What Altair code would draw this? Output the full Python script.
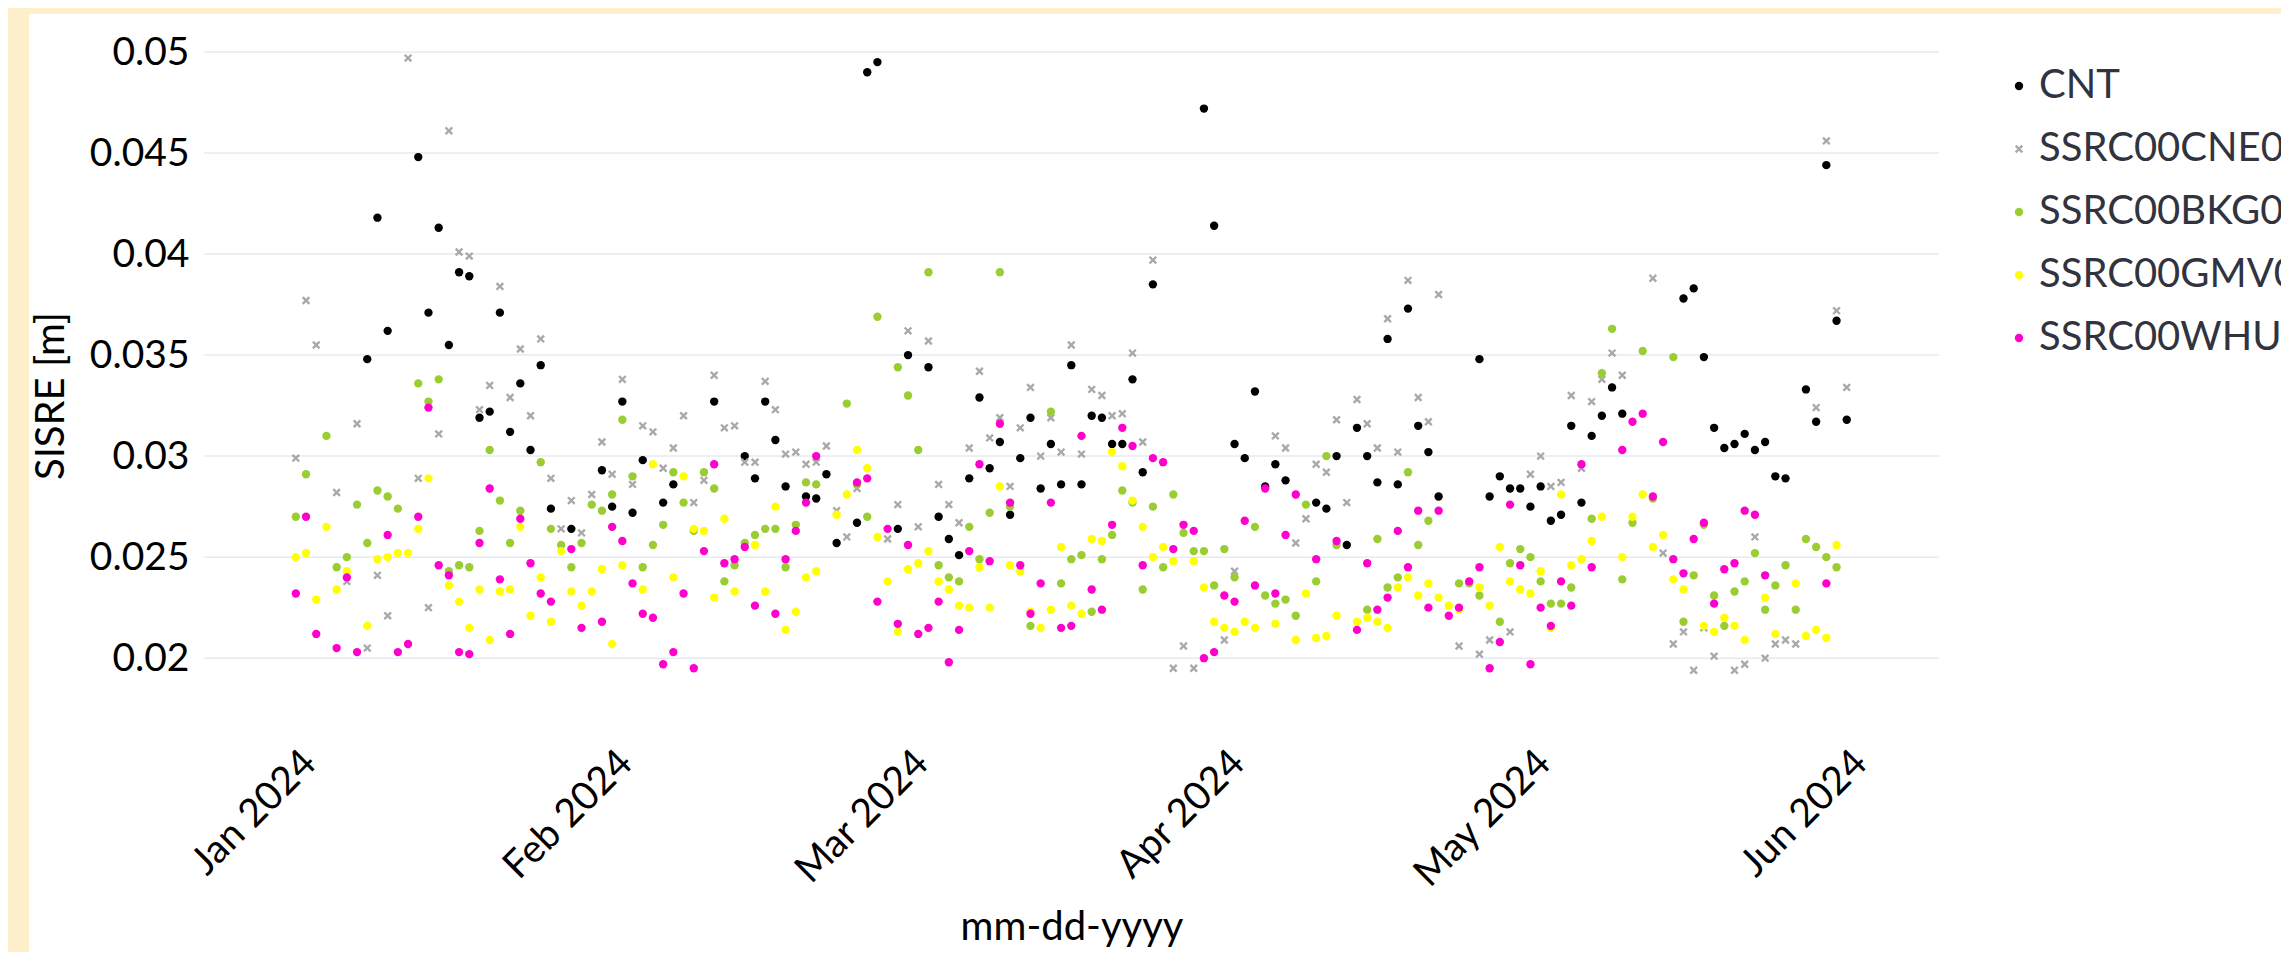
import altair as alt
import pandas as pd

series_names = ["CNT", "SSRC00CNE0", "SSRC00BKG0", "SSRC00GMV0", "SSRC00WHU0"]
series_colors = ["#000000", "#a9a9a9", "#9acd32", "#ffff00", "#ff00cc"]
x_shape = "M-1,-0.6L-0.6,-1L0,-0.4L0.6,-1L1,-0.6L0.4,0L1,0.6L0.6,1L0,0.4L-0.6,1L-1,0.6L-0.4,0Z"
series_shapes = ["circle", x_shape, "circle", "circle", "circle"]

start_date = "2024-01-01"  # day offsets below count from this date

cnt_days = [7, 8, 9, 12, 13, 14, 15, 16, 17, 18, 19, 20, 21, 22, 23, 24, 25, 27, 30, 31,
            32, 33, 34, 36, 37, 41, 44, 45, 46, 47, 48, 50, 51, 52, 53, 55, 56, 57, 59, 60,
            62, 63, 64, 65, 66, 67, 68, 69, 70, 71, 72, 73, 74, 75, 76, 77, 78, 79, 80, 81,
            82, 83, 84, 89, 90, 92, 93, 94, 95, 96, 97, 100, 101, 102, 103, 104, 105, 106, 107, 108,
            109, 110, 111, 112, 116, 117, 118, 119, 120, 121, 122, 123, 124, 125, 126, 127, 128, 129, 130, 136,
            137, 138, 139, 140, 141, 142, 143, 144, 145, 146, 148, 149, 150, 151, 152]
cnt_vals = [0.0348, 0.0418, 0.0362, 0.0448, 0.0371, 0.0413, 0.0355, 0.0391, 0.0389, 0.0319, 0.0322, 0.0371, 0.0312, 0.0336, 0.0303, 0.0345, 0.0274, 0.0264, 0.0293, 0.0275,
            0.0327, 0.0272, 0.0298, 0.0277, 0.0286, 0.0327, 0.0300, 0.0289, 0.0327, 0.0308, 0.0285, 0.0280, 0.0279, 0.0291, 0.0257, 0.0267, 0.0490, 0.0495, 0.0264, 0.0350,
            0.0344, 0.0270, 0.0259, 0.0251, 0.0289, 0.0329, 0.0294, 0.0307, 0.0271, 0.0299, 0.0319, 0.0284, 0.0306, 0.0286, 0.0345, 0.0286, 0.0320, 0.0319, 0.0306, 0.0306,
            0.0338, 0.0292, 0.0385, 0.0472, 0.0414, 0.0306, 0.0299, 0.0332, 0.0285, 0.0296, 0.0288, 0.0277, 0.0274, 0.0300, 0.0256, 0.0314, 0.0300, 0.0287, 0.0358, 0.0286,
            0.0373, 0.0315, 0.0302, 0.0280, 0.0348, 0.0280, 0.0290, 0.0284, 0.0284, 0.0275, 0.0285, 0.0268, 0.0271, 0.0315, 0.0277, 0.0310, 0.0320, 0.0334, 0.0321, 0.0378,
            0.0383, 0.0349, 0.0314, 0.0304, 0.0306, 0.0311, 0.0303, 0.0307, 0.0290, 0.0289, 0.0333, 0.0317, 0.0444, 0.0367, 0.0318]

cne_days = [0, 1, 2, 4, 5, 6, 7, 8, 9, 11, 12, 13, 14, 15, 16, 17, 18, 19, 20, 21,
            22, 23, 24, 25, 26, 27, 28, 29, 30, 31, 32, 33, 34, 35, 36, 37, 38, 39, 40, 41,
            42, 43, 44, 45, 46, 47, 48, 49, 50, 51, 52, 53, 54, 55, 58, 59, 60, 61, 62, 63,
            64, 65, 66, 67, 68, 69, 70, 71, 72, 73, 74, 75, 76, 77, 78, 79, 80, 81, 82, 83,
            84, 86, 87, 88, 91, 92, 96, 97, 98, 99, 100, 101, 102, 103, 104, 105, 106, 107, 108, 109,
            110, 111, 112, 114, 116, 117, 119, 121, 122, 123, 124, 125, 126, 127, 128, 129, 130, 133, 134, 135,
            136, 137, 138, 139, 141, 142, 143, 144, 145, 146, 147, 149, 150, 151, 152]
cne_vals = [0.0299, 0.0377, 0.0355, 0.0282, 0.0238, 0.0316, 0.0205, 0.0241, 0.0221, 0.0497, 0.0289, 0.0225, 0.0311, 0.0461, 0.0401, 0.0399, 0.0323, 0.0335, 0.0384, 0.0329,
            0.0353, 0.0320, 0.0358, 0.0289, 0.0264, 0.0278, 0.0262, 0.0281, 0.0307, 0.0291, 0.0338, 0.0286, 0.0315, 0.0312, 0.0294, 0.0304, 0.0320, 0.0277, 0.0288, 0.0340,
            0.0314, 0.0315, 0.0297, 0.0297, 0.0337, 0.0323, 0.0301, 0.0302, 0.0296, 0.0297, 0.0305, 0.0273, 0.0260, 0.0284, 0.0259, 0.0276, 0.0362, 0.0265, 0.0357, 0.0286,
            0.0276, 0.0267, 0.0304, 0.0342, 0.0309, 0.0319, 0.0285, 0.0314, 0.0334, 0.0300, 0.0319, 0.0302, 0.0355, 0.0301, 0.0333, 0.0330, 0.0320, 0.0321, 0.0351, 0.0307,
            0.0397, 0.0195, 0.0206, 0.0195, 0.0209, 0.0243, 0.0310, 0.0304, 0.0257, 0.0269, 0.0296, 0.0292, 0.0318, 0.0277, 0.0328, 0.0316, 0.0304, 0.0368, 0.0302, 0.0387,
            0.0329, 0.0317, 0.0380, 0.0206, 0.0202, 0.0209, 0.0213, 0.0291, 0.0300, 0.0285, 0.0287, 0.0330, 0.0294, 0.0327, 0.0338, 0.0351, 0.0340, 0.0388, 0.0252, 0.0207,
            0.0213, 0.0194, 0.0215, 0.0201, 0.0194, 0.0197, 0.0260, 0.0200, 0.0207, 0.0209, 0.0207, 0.0324, 0.0456, 0.0372, 0.0334]

bkg_days = [0, 1, 3, 4, 5, 6, 7, 8, 9, 10, 12, 13, 14, 15, 16, 17, 18, 19, 20, 21,
            22, 24, 25, 26, 27, 28, 29, 30, 31, 32, 33, 34, 35, 36, 37, 38, 39, 40, 41, 42,
            43, 44, 45, 46, 47, 48, 49, 50, 51, 54, 55, 56, 57, 59, 60, 61, 62, 63, 64, 65,
            66, 67, 68, 69, 70, 72, 74, 75, 76, 77, 78, 79, 80, 81, 82, 83, 84, 85, 86, 87,
            88, 89, 90, 91, 92, 94, 95, 96, 97, 98, 99, 100, 101, 102, 105, 106, 107, 108, 109, 110,
            111, 114, 115, 116, 118, 119, 120, 121, 122, 123, 124, 125, 127, 128, 129, 130, 131, 132, 133, 135,
            136, 137, 138, 139, 140, 141, 142, 143, 144, 145, 146, 147, 148, 149, 150, 151]
bkg_vals = [0.0270, 0.0291, 0.0310, 0.0245, 0.0250, 0.0276, 0.0257, 0.0283, 0.0280, 0.0274, 0.0336, 0.0327, 0.0338, 0.0243, 0.0246, 0.0245, 0.0263, 0.0303, 0.0278, 0.0257,
            0.0273, 0.0297, 0.0264, 0.0256, 0.0245, 0.0257, 0.0276, 0.0273, 0.0281, 0.0318, 0.0290, 0.0245, 0.0256, 0.0266, 0.0292, 0.0277, 0.0263, 0.0292, 0.0284, 0.0238,
            0.0246, 0.0257, 0.0261, 0.0264, 0.0264, 0.0245, 0.0266, 0.0287, 0.0286, 0.0326, 0.0286, 0.0270, 0.0369, 0.0344, 0.0330, 0.0303, 0.0391, 0.0246, 0.0240, 0.0238,
            0.0265, 0.0249, 0.0272, 0.0391, 0.0275, 0.0216, 0.0322, 0.0237, 0.0249, 0.0251, 0.0223, 0.0249, 0.0261, 0.0283, 0.0277, 0.0234, 0.0275, 0.0245, 0.0281, 0.0262,
            0.0253, 0.0253, 0.0236, 0.0254, 0.0240, 0.0265, 0.0231, 0.0227, 0.0229, 0.0221, 0.0276, 0.0238, 0.0300, 0.0256, 0.0224, 0.0259, 0.0235, 0.0240, 0.0292, 0.0256,
            0.0268, 0.0237, 0.0237, 0.0231, 0.0218, 0.0247, 0.0254, 0.0250, 0.0238, 0.0227, 0.0227, 0.0235, 0.0269, 0.0341, 0.0363, 0.0239, 0.0267, 0.0352, 0.0279, 0.0349,
            0.0218, 0.0241, 0.0266, 0.0231, 0.0216, 0.0233, 0.0238, 0.0252, 0.0224, 0.0236, 0.0246, 0.0224, 0.0259, 0.0255, 0.0250, 0.0245]

gmv_days = [0, 1, 2, 3, 4, 5, 7, 8, 9, 10, 11, 12, 13, 15, 16, 17, 18, 19, 20, 21,
            22, 23, 24, 25, 26, 27, 28, 29, 30, 31, 32, 34, 35, 37, 38, 39, 40, 41, 42, 43,
            45, 46, 47, 48, 49, 50, 51, 53, 54, 55, 56, 57, 58, 59, 60, 61, 62, 63, 64, 65,
            66, 67, 68, 69, 70, 71, 72, 73, 74, 75, 76, 77, 78, 79, 80, 81, 82, 83, 84, 85,
            86, 88, 89, 90, 91, 92, 93, 94, 96, 98, 99, 100, 101, 102, 104, 105, 106, 107, 108, 109,
            110, 111, 112, 113, 114, 116, 117, 118, 119, 120, 121, 122, 123, 124, 125, 126, 127, 128, 130, 131,
            132, 133, 134, 135, 136, 138, 139, 140, 141, 142, 144, 145, 147, 148, 149, 150, 151]
gmv_vals = [0.0250, 0.0252, 0.0229, 0.0265, 0.0234, 0.0243, 0.0216, 0.0249, 0.0250, 0.0252, 0.0252, 0.0264, 0.0289, 0.0236, 0.0228, 0.0215, 0.0234, 0.0209, 0.0233, 0.0234,
            0.0265, 0.0221, 0.0240, 0.0218, 0.0253, 0.0233, 0.0226, 0.0233, 0.0244, 0.0207, 0.0246, 0.0234, 0.0296, 0.0240, 0.0290, 0.0264, 0.0263, 0.0230, 0.0269, 0.0233,
            0.0256, 0.0233, 0.0275, 0.0214, 0.0223, 0.0240, 0.0243, 0.0271, 0.0281, 0.0303, 0.0294, 0.0260, 0.0238, 0.0213, 0.0244, 0.0247, 0.0253, 0.0238, 0.0234, 0.0226,
            0.0225, 0.0245, 0.0225, 0.0285, 0.0246, 0.0243, 0.0223, 0.0215, 0.0224, 0.0255, 0.0226, 0.0222, 0.0259, 0.0258, 0.0302, 0.0295, 0.0278, 0.0265, 0.0250, 0.0255,
            0.0248, 0.0248, 0.0235, 0.0218, 0.0215, 0.0213, 0.0218, 0.0215, 0.0217, 0.0209, 0.0232, 0.0210, 0.0211, 0.0221, 0.0218, 0.0220, 0.0218, 0.0215, 0.0235, 0.0240,
            0.0231, 0.0237, 0.0230, 0.0226, 0.0224, 0.0235, 0.0226, 0.0255, 0.0238, 0.0234, 0.0232, 0.0243, 0.0215, 0.0281, 0.0246, 0.0249, 0.0258, 0.0270, 0.0250, 0.0270,
            0.0281, 0.0255, 0.0261, 0.0239, 0.0234, 0.0216, 0.0213, 0.0220, 0.0216, 0.0209, 0.0230, 0.0212, 0.0237, 0.0211, 0.0214, 0.0210, 0.0256]

whu_days = [0, 1, 2, 4, 5, 6, 9, 10, 11, 12, 13, 14, 15, 16, 17, 18, 19, 20, 21, 22,
            23, 24, 25, 27, 28, 30, 31, 32, 33, 34, 35, 36, 37, 38, 39, 40, 41, 42, 43, 44,
            45, 47, 48, 49, 50, 51, 55, 56, 57, 58, 59, 60, 61, 62, 63, 64, 65, 66, 67, 68,
            69, 70, 71, 72, 73, 74, 75, 76, 77, 78, 79, 80, 81, 82, 83, 84, 85, 86, 87, 88,
            89, 90, 91, 92, 93, 94, 95, 96, 97, 98, 100, 102, 104, 105, 106, 107, 108, 109, 110, 111,
            112, 113, 114, 115, 116, 117, 118, 119, 120, 121, 122, 123, 124, 125, 126, 127, 130, 131, 132, 133,
            134, 135, 136, 137, 138, 139, 140, 141, 142, 143, 144, 150]
whu_vals = [0.0232, 0.0270, 0.0212, 0.0205, 0.0240, 0.0203, 0.0261, 0.0203, 0.0207, 0.0270, 0.0324, 0.0246, 0.0241, 0.0203, 0.0202, 0.0257, 0.0284, 0.0239, 0.0212, 0.0269,
            0.0247, 0.0232, 0.0228, 0.0254, 0.0215, 0.0218, 0.0265, 0.0258, 0.0237, 0.0222, 0.0220, 0.0197, 0.0203, 0.0232, 0.0195, 0.0253, 0.0296, 0.0247, 0.0249, 0.0255,
            0.0226, 0.0222, 0.0249, 0.0263, 0.0277, 0.0300, 0.0287, 0.0289, 0.0228, 0.0264, 0.0217, 0.0256, 0.0212, 0.0215, 0.0228, 0.0198, 0.0214, 0.0253, 0.0296, 0.0248,
            0.0316, 0.0277, 0.0246, 0.0222, 0.0237, 0.0277, 0.0215, 0.0216, 0.0310, 0.0234, 0.0224, 0.0266, 0.0314, 0.0305, 0.0246, 0.0299, 0.0297, 0.0254, 0.0266, 0.0263,
            0.0200, 0.0203, 0.0231, 0.0228, 0.0268, 0.0236, 0.0284, 0.0232, 0.0261, 0.0281, 0.0249, 0.0258, 0.0214, 0.0247, 0.0224, 0.0230, 0.0263, 0.0245, 0.0273, 0.0225,
            0.0273, 0.0221, 0.0225, 0.0238, 0.0245, 0.0195, 0.0208, 0.0276, 0.0246, 0.0197, 0.0225, 0.0216, 0.0238, 0.0226, 0.0296, 0.0245, 0.0303, 0.0317, 0.0321, 0.0280,
            0.0307, 0.0249, 0.0242, 0.0259, 0.0267, 0.0227, 0.0244, 0.0247, 0.0273, 0.0271, 0.0241, 0.0237]

y_tick_values = [0.02, 0.025, 0.03, 0.035, 0.04, 0.045, 0.05]

series_data = [
    ("CNT", cnt_days, cnt_vals),
    ("SSRC00CNE0", cne_days, cne_vals),
    ("SSRC00BKG0", bkg_days, bkg_vals),
    ("SSRC00GMV0", gmv_days, gmv_vals),
    ("SSRC00WHU0", whu_days, whu_vals),
]

frames = []
base = pd.Timestamp(start_date)
for order, (name, days, vals) in enumerate(series_data):
    frames.append(pd.DataFrame({
        "date": [base + pd.Timedelta(days=d) for d in days],
        "value": vals,
        "series": name,
        "order": order,
    }))
df = pd.concat(frames, ignore_index=True)

FONT = "Lato"
y_scale = alt.Scale(domain=[0.016, 0.05], nice=False, zero=False)
y_axis = alt.Axis(values=y_tick_values, format="~g", ticks=False, tickSize=0,
                  domain=False, grid=False, labelPadding=15, titlePadding=18,
                  zindex=1, title="SISRE [m]")

# white card behind the whole chart (page chrome, not data)
panel = alt.Chart(pd.DataFrame({"k": [0]})).mark_rect(color="white").encode(
    x=alt.value(-175), x2=alt.value(2085), y=alt.value(-38), y2=alt.value(912)
)

# horizontal gridlines at the y tick values, drawn under the points
grid = alt.Chart(pd.DataFrame({"tick": y_tick_values})).mark_rule(
    color="#e6eaf1", strokeWidth=1.5
).encode(
    y=alt.Y("tick:Q", scale=y_scale, axis=y_axis, title="SISRE [m]"),
    x=alt.value(0),
    x2=alt.value(1735),
)

month_ticks = [alt.DateTime(year=2024, month=m, date=1) for m in range(1, 7)]

points = alt.Chart(df).mark_point(filled=True, size=70, opacity=1).encode(
    x=alt.X(
        "date:T",
        title="mm-dd-yyyy",
        scale=alt.Scale(domain=[alt.DateTime(year=2023, month=12, date=23),
                                alt.DateTime(year=2024, month=6, date=10, hours=1)]),
        axis=alt.Axis(format="%b %Y", labelAngle=-45, grid=False, values=month_ticks,
                      ticks=False, tickSize=0, domain=False, labelPadding=4,
                      titlePadding=13, zindex=1),
    ),
    y=alt.Y("value:Q", title="SISRE [m]", scale=y_scale, axis=y_axis),
    color=alt.Color("series:N", scale=alt.Scale(domain=series_names, range=series_colors),
                    legend=alt.Legend(title=None)),
    shape=alt.Shape("series:N", scale=alt.Scale(domain=series_names, range=series_shapes),
                    legend=alt.Legend(title=None)),
    order=alt.Order("order:Q"),
)

chart = alt.layer(panel, grid, points).properties(
    width=1735,
    height=687,
    padding={"left": 196, "top": 44, "right": 342, "bottom": 213},
    autosize=alt.AutoSizeParams(type="none"),
    background="#fff0cc",
).configure_view(stroke=None).configure_axis(
    labelFont=FONT, titleFont=FONT, labelFontSize=39, titleFontSize=40,
    labelColor="#000000", titleColor="#000000", titleFontWeight="normal",
).configure_legend(
    orient="right", labelFont=FONT, labelFontSize=40, labelColor="#31333f",
    labelLimit=600, symbolSize=70, rowPadding=23, labelOffset=0, offset=46,
    padding=14, symbolStrokeWidth=0, zindex=1,
)

chart.save("out.html", embed_options={"renderer": "svg", "actions": False})
